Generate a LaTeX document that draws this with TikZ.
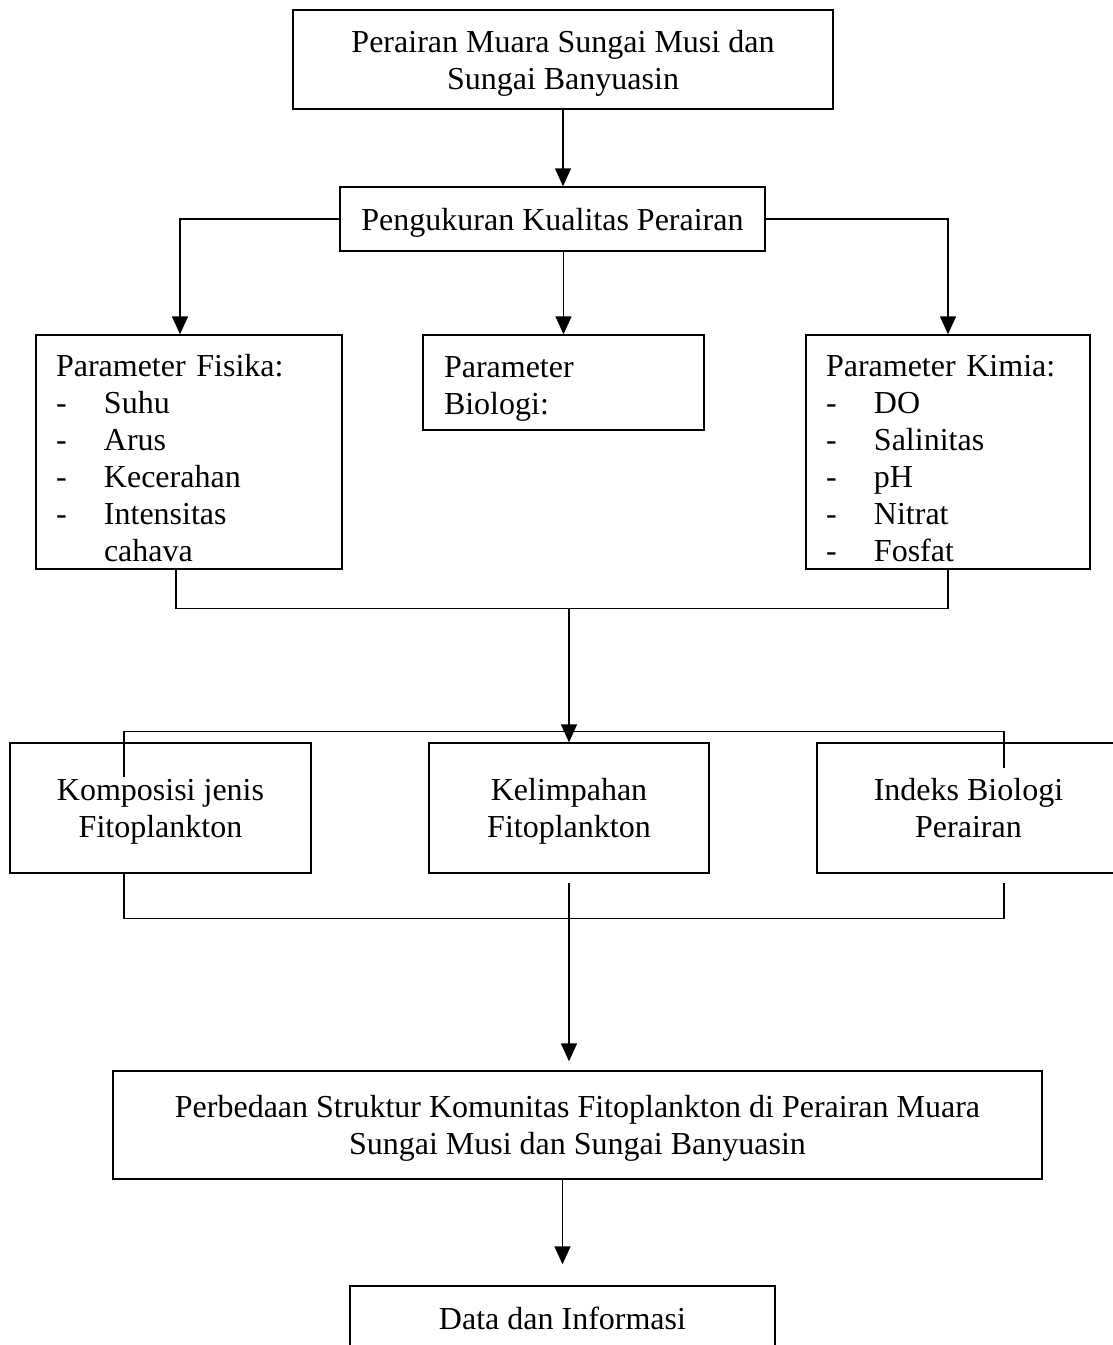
\documentclass[tikz,border=0pt]{standalone}
\usepackage{fontspec}
\setmainfont{Liberation Serif}
\usetikzlibrary{calc,arrows.meta}
\newcommand{\butir}[1]{\makebox[24pt][l]{-}#1}

\begin{document}
\begin{tikzpicture}[x=0.5pt,y=-0.5pt,
		kotak/.style={draw,line width=0.7pt,inner sep=0pt,font=\fontsize{16pt}{18.5pt}\selectfont},
		tengah/.style={kotak,align=center,text depth=-2.5pt},
		kiri/.style={kotak,align=left,inner xsep=10pt,text height=16.8pt},
		garis/.style={line width=0.7pt},
		panah/.style={garis,-{Triangle[width=8pt,length=9pt]}}]
				\useasboundingbox (0,0) rectangle (1113,1345);
				\clip (0,0) rectangle (1113,1345);

				\node (muara) at (563,59.5)[tengah,minimum width=270pt,minimum height=49.5pt]{Perairan Muara Sungai Musi dan\\Sungai Banyuasin};
				\node (pengukuran) at (552.5,219)[tengah,minimum width=212.5pt,minimum height=32pt]{Pengukuran Kualitas Perairan};

				\node (fisika) at (189,452)[kiri,text width=133pt,minimum height=117pt]{Parameter Fisika:\\\butir{Suhu}\\\butir{Arus}\\\butir{Kecerahan}\\\butir{Intensitas}\\\hspace*{24pt}cahava};
				\node (biologi) at (563.5,382.5)[kiri,inner xsep=10.5pt,text width=119.5pt,minimum height=47.5pt]{Parameter\\Biologi:};
				\node (kimia) at (948,452)[kiri,text width=122pt,minimum height=117pt]{Parameter Kimia:\\\butir{DO}\\\butir{Salinitas}\\\butir{pH}\\\butir{Nitrat}\\\butir{Fosfat}};

				\node (komposisi) at (160.5,808)[tengah,minimum width=150.5pt,minimum height=65pt]{Komposisi jenis\\Fitoplankton};
				\node (kelimpahan) at (569,808)[tengah,minimum width=140pt,minimum height=65pt]{Kelimpahan\\Fitoplankton};
				\node (indeks) at (968.5,808)[tengah,minimum width=151.5pt,minimum height=65pt]{Indeks Biologi\\Perairan};

				\node (perbedaan) at (577.5,1125)[tengah,minimum width=464.5pt,minimum height=54pt]{Perbedaan Struktur Komunitas Fitoplankton di Perairan Muara\\Sungai Musi dan Sungai Banyuasin};
				\node (data) at (562.5,1318.5)[tengah,minimum width=212.5pt,minimum height=32.5pt]{Data dan Informasi};

				\draw[panah] (muara.south) -- (pengukuran.north -| muara.south);
				\draw[panah] (pengukuran.west) -| ([xshift=-4.5pt]fisika.north);
				\draw[panah] (pengukuran.south -| biologi.north) -- (biologi.north);
				\draw[panah] (pengukuran.east) -| (kimia.north);

				\draw[garis] ([xshift=-6.5pt]fisika.south) -- ++(0,39) -| (kimia.south);
				\draw[panah] (kelimpahan.north |- 0,608) -- (kelimpahan.north);

				\draw[garis] ([xshift=-18.25pt,yshift=-17.5pt]komposisi.north) -- ++(0,-46) -| ([xshift=17.75pt,yshift=-13pt]indeks.north);
				\draw[garis] ([xshift=-18.25pt]komposisi.south) -- ++(0,45) -| ([xshift=17.75pt,yshift=-4.5pt]indeks.south);

				\draw[panah,shorten >=4.5pt] ([yshift=-4.5pt]kelimpahan.south) -- (kelimpahan.south |- perbedaan.north);
				\draw[panah,shorten >=10.5pt] (perbedaan.south -| data.north) -- (data.north);
			\end{tikzpicture}
\end{document}
